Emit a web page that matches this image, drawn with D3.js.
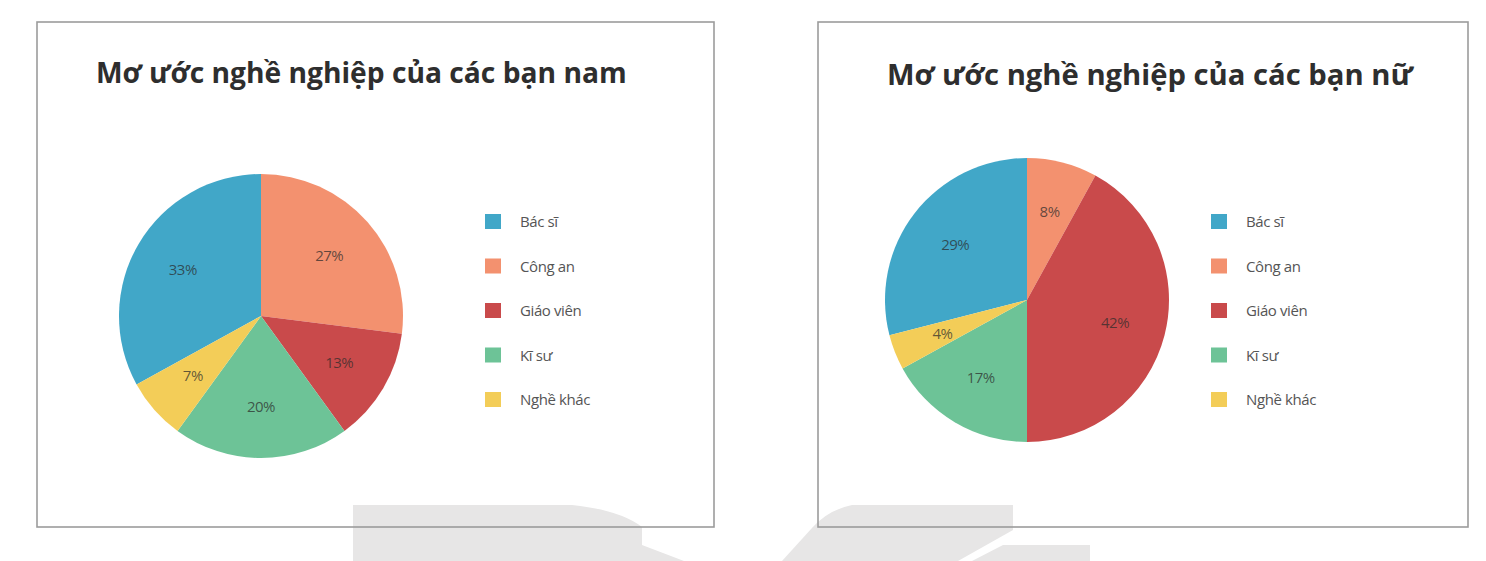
<!DOCTYPE html>
<html>
<head>
<meta charset="utf-8">
<script src="https://cdn.jsdelivr.net/npm/d3@7"></script>
<style>
  html, body { margin: 0; padding: 0; background: #fff; }
  svg { display: block; }
</style>
</head>
<body>
<div id="chart"></div>
<script>
// data
const categories = ["Bác sĩ", "Công an", "Giáo viên", "Kĩ sư", "Nghề khác"];
const boysValues = [33, 27, 13, 20, 7];
const girlsValues = [29, 8, 42, 17, 4];
const chartTitles = ["Mơ ước nghề nghiệp của các bạn nam", "Mơ ước nghề nghiệp của các bạn nữ"];

const width = 1486, height = 561;

const color = d3.scaleOrdinal()
  .domain(categories)
  .range(["#41a7c8", "#f3916f", "#c94a4b", "#6dc397", "#f3cd58"]);

// layout of the two panels
const panels = [
  { values: boysValues, title: chartTitles[0], box: [37, 22, 714, 527],
    cx: 261, cy: 316, r: 142, titleX: 96, titleW: 531, titleY: 83,
    legendX: 485, legendTextX: 520, legendY: 222 },
  { values: girlsValues, title: chartTitles[1], box: [818, 22, 1468, 527],
    cx: 1027, cy: 300, r: 142, titleX: 887, titleW: 526, titleY: 85,
    legendX: 1211, legendTextX: 1246, legendY: 222 }
];
const legendStep = 44.5;

const svg = d3.select("#chart")
  .append("svg")
  .attr("width", width)
  .attr("height", height);

svg.append("rect")
  .attr("width", width)
  .attr("height", height)
  .attr("fill", "#fff");

// faint watermark shapes along the bottom edge
const mark = svg.append("g").attr("fill", "#e7e6e6");
mark.append("path")
  .attr("d", "M353,505 L572,505 Q620,510 642,527 L642,545 L684,561 L353,561 Z");
mark.append("path")
  .attr("d", "M852,505 L1013,505 L1013,530 L958,561 L782,561 L812,528 Q828,510 852,505 Z");
mark.append("path")
  .attr("d", "M1003,545 L1090,545 L1090,561 L972,561 Z");

panels.forEach(p => {
  const [x0, y0, x1, y1] = p.box;
  const g = svg.append("g");

  g.append("rect")
    .attr("x", x0)
    .attr("y", y0)
    .attr("width", x1 - x0)
    .attr("height", y1 - y0)
    .attr("fill", "none")
    .attr("stroke", "#9c9c9c")
    .attr("stroke-width", 1.6);

  const title = g.append("text")
    .attr("x", p.titleX)
    .attr("y", p.titleY)
    .style("font-family", "'Open Sans', sans-serif")
    .style("font-weight", "bold")
    .style("font-size", "26px")
    .attr("fill", "#2e2e2e")
    .text(p.title);
  const len = title.node().getComputedTextLength();
  title.style("font-size", (26 * p.titleW / len) + "px");

  const total = d3.sum(p.values);
  const start = -2 * Math.PI * p.values[0] / total;
  const pie = d3.pie()
    .sort(null)
    .value(d => d)
    .startAngle(start)
    .endAngle(start + 2 * Math.PI);

  const arc = d3.arc().innerRadius(0).outerRadius(p.r);
  const labelArc = d3.arc().innerRadius(p.r * 0.64).outerRadius(p.r * 0.64);

  const arcs = pie(p.values);
  const pieG = g.append("g").attr("transform", `translate(${p.cx},${p.cy})`);

  pieG.selectAll("path")
    .data(arcs)
    .enter()
    .append("path")
    .attr("d", arc)
    .attr("fill", (d, i) => color(categories[i]));

  pieG.selectAll("text")
    .data(arcs)
    .enter()
    .append("text")
    .attr("transform", d => `translate(${labelArc.centroid(d)})`)
    .attr("text-anchor", "middle")
    .attr("dy", "0.35em")
    .style("font-family", "'Open Sans', sans-serif")
    .style("font-size", "15px")
    .style("letter-spacing", "-0.5px")
    .attr("fill", "#2a2a2a")
    .attr("fill-opacity", 0.72)
    .text(d => d.data + "%");

  const legend = g.selectAll(".legend")
    .data(categories)
    .enter()
    .append("g")
    .attr("class", "legend")
    .attr("transform", (d, i) => `translate(0,${p.legendY + i * legendStep})`);

  legend.append("rect")
    .attr("x", p.legendX)
    .attr("y", -8)
    .attr("width", 16)
    .attr("height", 15)
    .attr("fill", d => color(d));

  legend.append("text")
    .attr("x", p.legendTextX)
    .attr("dy", "0.35em")
    .style("font-family", "'Open Sans', sans-serif")
    .style("font-size", "15px")
    .style("letter-spacing", "-0.4px")
    .attr("fill", "#555")
    .text(d => d);
});
</script>
</body>
</html>
